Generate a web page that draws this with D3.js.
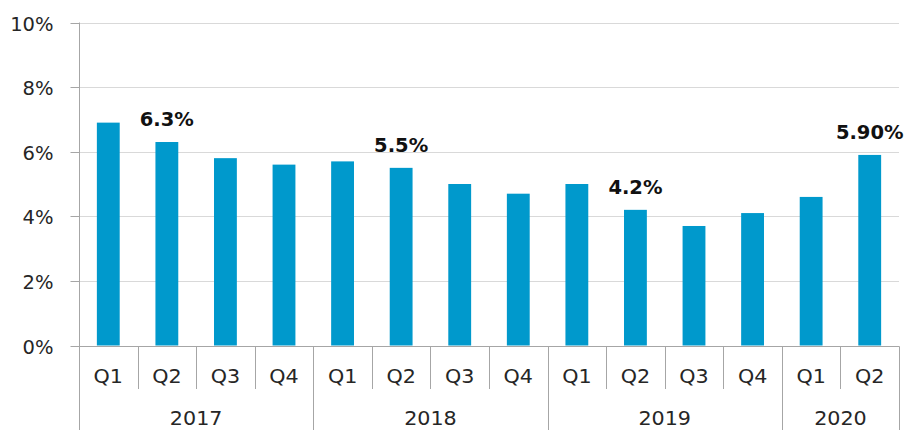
<!DOCTYPE html>
<html><head><meta charset="utf-8">
<script src="https://cdn.jsdelivr.net/npm/d3@7"></script>
<style>
html,body{margin:0;padding:0;background:#fff;}
svg{display:block;}
</style></head>
<body>
<svg id="chart" width="906" height="430"></svg>
<script>
const quarters = ["Q1","Q2","Q3","Q4","Q1","Q2","Q3","Q4","Q1","Q2","Q3","Q4","Q1","Q2"];
const years = ["2017","2017","2017","2017","2018","2018","2018","2018","2019","2019","2019","2019","2020","2020"];
const values = [6.9,6.3,5.8,5.6,5.7,5.5,5.0,4.7,5.0,4.2,3.7,4.1,4.6,5.9];
const dataLabels = [null,"6.3%",null,null,null,"5.5%",null,null,null,"4.2%",null,null,null,"5.90%"];
const yTicks = [0,2,4,6,8,10];

(function () {
const svg = d3.select("#chart");
const mLeft = 79, mRight = 899, mTop = 22.5, mBottom = 345.5, qBottom = 389, H = 430;
const axisColor = "#a6a6a6", gridColor = "#d9d9d9", textColor = "#262626";
const font = "DejaVu Sans, Verdana, sans-serif";
const fs = 19.5;
const sx = 1.06;

const idx = d3.range(values.length);
const x = d3.scaleBand().domain(idx).range([mLeft, mRight]).padding(0);
const y = d3.scaleLinear().domain([0, 10]).range([mBottom, mTop]);

// gridlines
svg.append("g").selectAll("line").data(yTicks.filter(d => d > 0)).join("line")
  .attr("x1", mLeft).attr("x2", mRight)
  .attr("y1", d => Math.round(y(d)) + 0.5).attr("y2", d => Math.round(y(d)) + 0.5)
  .attr("stroke", gridColor).attr("stroke-width", 1);

// y axis
const yAxis = d3.axisLeft(y).tickValues(yTicks).tickSize(9).tickPadding(17).tickFormat(d => d + "%");
const gy = svg.append("g").attr("transform", `translate(${mLeft + 0.5},0)`).call(yAxis);
gy.select(".domain").remove();
gy.selectAll(".tick line").attr("stroke", axisColor);
gy.selectAll(".tick").attr("transform", d => `translate(0,${Math.round(y(d)) + 0.5})`);
gy.selectAll(".tick text")
  .attr("fill", textColor).attr("font-family", font).attr("font-size", fs)
  .attr("x", -26).attr("dy", "0.36em");

// bars
const barW = x.bandwidth() * 0.39;
svg.append("g").selectAll("rect").data(idx).join("rect")
  .attr("x", i => x(i) + x.bandwidth() / 2 - barW / 2)
  .attr("width", barW)
  .attr("y", i => y(values[i]))
  .attr("height", i => y(0) - y(values[i]))
  .attr("fill", "#0099cc");

// data labels
svg.append("g").selectAll("text").data(idx.filter(i => dataLabels[i])).join("text")
  .attr("x", i => x(i) + x.bandwidth() / 2)
  .attr("y", i => y(values[i]) - 16)
  .attr("text-anchor", "middle")
  .attr("font-family", font).attr("font-weight", "bold").attr("font-size", fs)
  .attr("fill", "#111")
  .text(i => dataLabels[i]);

// category axis line
svg.append("line").attr("x1", mLeft).attr("x2", mRight + 0.5)
  .attr("y1", Math.round(mBottom) + 0.5).attr("y2", Math.round(mBottom) + 0.5)
  .attr("stroke", axisColor);
// left vertical axis line
svg.append("line").attr("x1", mLeft + 0.5).attr("x2", mLeft + 0.5)
  .attr("y1", mTop).attr("y2", H).attr("stroke", axisColor);

// separators
const bounds = d3.range(1, values.length + 1);
svg.append("g").selectAll("line").data(bounds).join("line")
  .attr("x1", i => Math.round(i < values.length ? x(i) : mRight) + 0.5)
  .attr("x2", i => Math.round(i < values.length ? x(i) : mRight) + 0.5)
  .attr("y1", Math.round(mBottom) + 0.5)
  .attr("y2", i => (i === values.length || years[i] !== years[i - 1]) ? H : qBottom)
  .attr("stroke", axisColor);

// quarter labels
svg.append("g").selectAll("text").data(idx).join("text")
  .attr("transform", i => `translate(${x(i) + x.bandwidth() / 2},382.5) scale(${sx},1)`)
  .attr("text-anchor", "middle")
  .attr("font-family", font).attr("font-size", fs).attr("fill", textColor)
  .text(i => quarters[i]);

// year labels
const yearGroups = d3.groups(idx, i => years[i]);
svg.append("g").selectAll("text").data(yearGroups).join("text")
  .attr("transform", g => {
    const a = x(g[1][0]), b = x(g[1][g[1].length - 1]) + x.bandwidth();
    return `translate(${(a + b) / 2},425) scale(${sx},1)`;
  })
  .attr("text-anchor", "middle")
  .attr("font-family", font).attr("font-size", fs).attr("fill", textColor)
  .text(g => g[0]);
})();
</script>
</body></html>
